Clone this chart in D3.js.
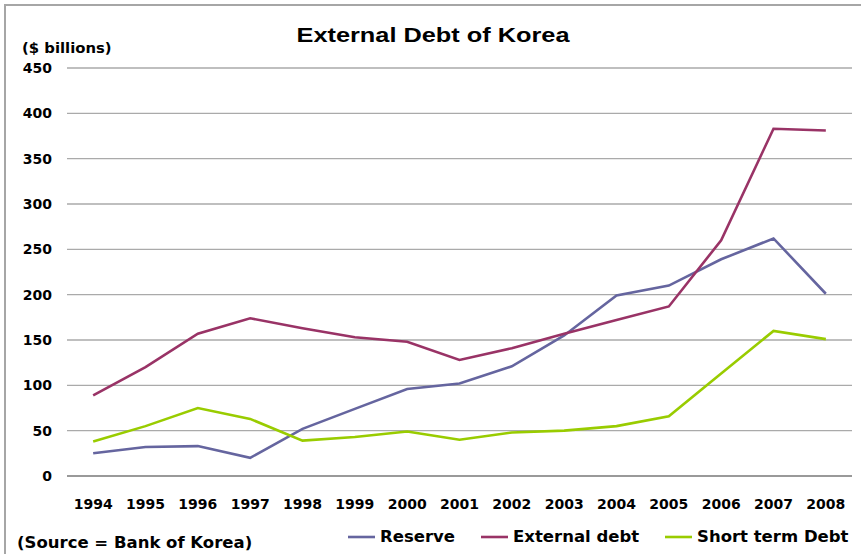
<!DOCTYPE html>
<html>
<head>
<meta charset="utf-8">
<script src="https://cdn.jsdelivr.net/npm/d3@7"></script>
<style>
  body { margin: 0; background: #fff; }
  text { font-family: "DejaVu Sans", Verdana, sans-serif; font-weight: bold; fill: #000; }
  .title { font-family: "Liberation Sans", Arial, sans-serif; font-size: 21px; }
</style>
</head>
<body>
<div id="container"></div>
<script>
// data
var years = ["1994","1995","1996","1997","1998","1999","2000","2001","2002","2003","2004","2005","2006","2007","2008"];
var reserve = [25, 32, 33, 20, 52, 74, 96, 102, 121, 155, 199, 210, 239, 262, 201];
var externalDebt = [89, 120, 157, 174, 163, 153, 148, 128, 141, 157, 172, 187, 260, 383, 381];
var shortTermDebt = [38, 55, 75, 63, 39, 43, 49, 40, 48, 50, 55, 66, 113, 160, 151];
var yTicks = [0, 50, 100, 150, 200, 250, 300, 350, 400, 450];
var seriesNames = ["Reserve", "External debt", "Short term Debt"];

var colors = ["#65659f", "#993366", "#99cc00"];
var series = [reserve, externalDebt, shortTermDebt];

var W = 861, H = 554;
var margin = {top: 68, right: 9, bottom: 78, left: 67};
var width = W - margin.left - margin.right;
var height = H - margin.top - margin.bottom;

var svg = d3.select("#container").append("svg")
    .attr("width", W)
    .attr("height", H);

// stretch text horizontally (the original looks a bit wider)
function stretch(sel, k) {
    sel.each(function() {
        var len = this.getComputedTextLength();
        d3.select(this)
            .attr("textLength", len * k)
            .attr("lengthAdjust", "spacingAndGlyphs");
    });
}

// outer frame (only top/left visible in the original)
svg.append("rect")
    .attr("x", 5).attr("y", 5)
    .attr("width", 880).attr("height", 580)
    .attr("fill", "none")
    .attr("stroke", "#a6a6a6")
    .attr("stroke-width", 2);

var g = svg.append("g")
    .attr("transform", "translate(" + margin.left + "," + margin.top + ")");

var x = d3.scaleBand()
    .domain(years)
    .range([0, width]);

var y = d3.scaleLinear()
    .domain([0, 450])
    .range([height, 0]);

// gridlines
g.selectAll(".grid")
    .data(yTicks)
    .enter().append("line")
    .attr("class", "grid")
    .attr("x1", 0).attr("x2", width)
    .attr("y1", d => y(d)).attr("y2", d => y(d))
    .attr("stroke", d => d == 0 ? "#999" : "#aaa")
    .attr("stroke-width", d => d == 0 ? 2 : 1.3);

// y labels
g.selectAll(".ylab")
    .data(yTicks)
    .enter().append("text")
    .attr("class", "ylab")
    .attr("x", -15)
    .attr("y", d => y(d))
    .attr("dy", "0.36em")
    .attr("text-anchor", "end")
    .style("font-size", "14px")
    .text(d => d);

// x labels
g.selectAll(".xlab")
    .data(years)
    .enter().append("text")
    .attr("class", "xlab")
    .attr("x", d => x(d) + x.bandwidth() / 2)
    .attr("y", height + 33)
    .attr("text-anchor", "middle")
    .style("font-size", "14px")
    .text(d => d);

// lines
var line = d3.line()
    .x((d, i) => x(years[i]) + x.bandwidth() / 2)
    .y(d => y(d));

series.forEach(function(s, k) {
    g.append("path")
        .attr("d", line(s))
        .attr("fill", "none")
        .attr("stroke", colors[k])
        .attr("stroke-width", 2.6)
        .attr("stroke-linejoin", "miter");
});

// title
svg.append("text")
    .attr("class", "title")
    .attr("x", 433)
    .attr("y", 42)
    .attr("text-anchor", "middle")
    .attr("textLength", 273)
    .attr("lengthAdjust", "spacingAndGlyphs")
    .text("External Debt of Korea");

svg.append("text")
    .attr("x", 22)
    .attr("y", 53)
    .style("font-size", "14px")
    .text("($ billions)")
    .call(stretch, 1.06);

svg.append("text")
    .attr("x", 17)
    .attr("y", 548)
    .style("font-size", "15px")
    .text("(Source = Bank of Korea)")
    .call(stretch, 1.1);

// legend
var legendX = [348, 481, 665];
var leg = svg.selectAll(".legend")
    .data(seriesNames)
    .enter().append("g")
    .attr("class", "legend")
    .attr("transform", (d, i) => "translate(" + legendX[i] + ",537)");

leg.append("line")
    .attr("x1", 0).attr("x2", 27)
    .attr("y1", 0).attr("y2", 0)
    .attr("stroke", (d, i) => colors[i])
    .attr("stroke-width", 2.6);

leg.append("text")
    .attr("x", 32)
    .attr("dy", "0.36em")
    .style("font-size", "15px")
    .text(d => d)
    .call(stretch, 1.1);
</script>
</body>
</html>
